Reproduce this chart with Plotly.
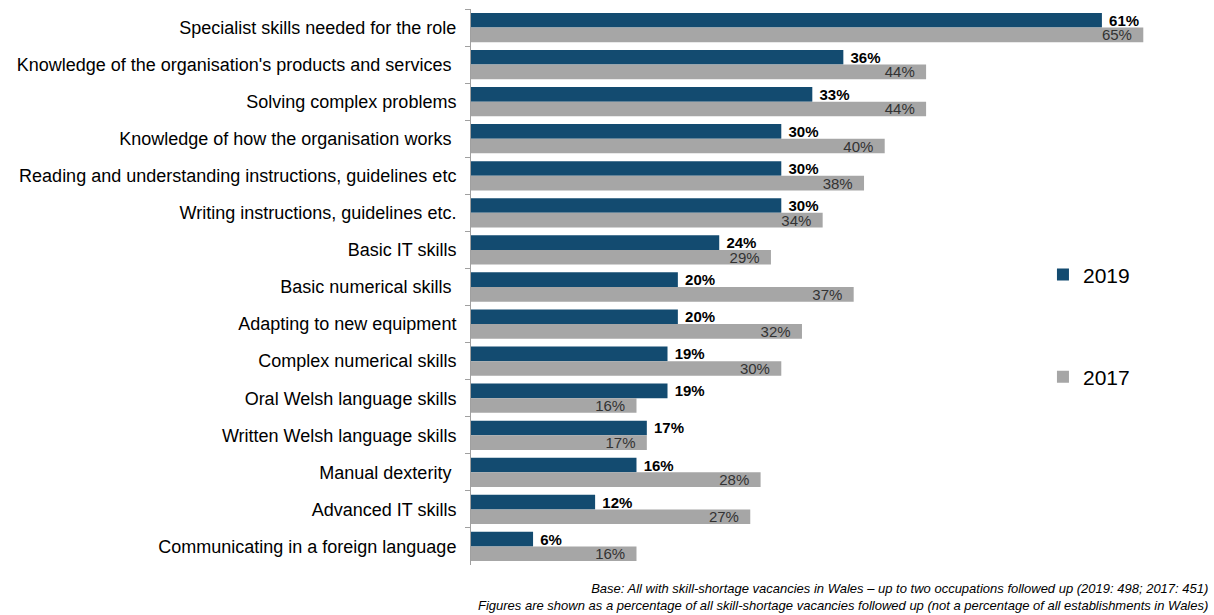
import plotly.graph_objects as go

# Skills found difficult to obtain among skill-shortage vacancies (% of SSVs)
skills = [
    "Specialist skills needed for the role",
    "Knowledge of the organisation's products and services\u00a0",
    "Solving complex problems",
    "Knowledge of how the organisation works\u00a0",
    "Reading and understanding instructions, guidelines etc",
    "Writing instructions, guidelines etc.",
    "Basic IT skills",
    "Basic numerical skills\u00a0",
    "Adapting to new equipment",
    "Complex numerical skills",
    "Oral Welsh language skills",
    "Written Welsh language skills",
    "Manual dexterity\u00a0",
    "Advanced IT skills",
    "Communicating in a foreign language",
]
values_2019 = [61, 36, 33, 30, 30, 30, 24, 20, 20, 19, 19, 17, 16, 12, 6]
values_2017 = [65, 44, 44, 40, 38, 34, 29, 37, 32, 30, 16, 17, 28, 27, 16]

BLUE = "#134B70"
GREY = "#A6A6A6"
FONT = "Liberation Sans, Arial, sans-serif"

fig = go.Figure()
fig.add_trace(go.Bar(
    y=skills, x=values_2019, name="2019", orientation="h",
    marker=dict(color=BLUE, line=dict(width=0)),
    text=[f"\u00a0{v}%" for v in values_2019],
    textposition="outside", constraintext="none", cliponaxis=False,
    textfont=dict(family=FONT, size=15, color="#000000", weight="bold"),
    legend="legend",
))
fig.add_trace(go.Bar(
    y=skills, x=values_2017, name="2017", orientation="h",
    marker=dict(color=GREY, line=dict(width=0)),
    text=[f"{v}%\u00a0\u00a0" for v in values_2017],
    textposition="inside", insidetextanchor="end", constraintext="none",
    textfont=dict(family=FONT, size=15, color="#333333"),
    legend="legend2",
))

legend_style = dict(
    xanchor="left", yanchor="middle", bgcolor="rgba(0,0,0,0)",
    font=dict(family=FONT, size=21, color="#000000"),
    itemwidth=30, tracegroupgap=0,
)

fig.update_layout(
    width=1214, height=615,
    margin=dict(l=471, r=19, t=9, b=50),
    paper_bgcolor="white", plot_bgcolor="white",
    barmode="group", bargap=0.21, bargroupgap=0,
    font=dict(family=FONT, color="#000000"),
    showlegend=True,
    legend=dict(x=0.79, y=0.522, **legend_style),
    legend2=dict(x=0.79, y=0.338, **legend_style),
    xaxis=dict(range=[0, 70], visible=False, fixedrange=True),
    yaxis=dict(
        autorange="reversed", type="category",
        showline=True, linecolor="#A0A0A0", linewidth=1,
        ticks="outside", ticklen=5, tickcolor="#A0A0A0", tickson="boundaries",
        ticklabelstandoff=10,
        tickfont=dict(family=FONT, size=18, color="#000000"),
        showgrid=False, zeroline=False,
    ),
    annotations=[
        dict(
            xref="paper", yref="paper", x=1.021, y=-0.026, xanchor="right", yanchor="top",
            align="right", showarrow=False,
            text=("<i>Base: All with skill-shortage vacancies in Wales \u2013 up to two occupations followed up (2019: 498; 2017: 451)</i><br>"
                  "<i>Figures are shown as a percentage of all skill-shortage vacancies followed up (not a percentage of all establishments in Wales)</i>"),
            font=dict(family=FONT, size=13, color="#000000"),
        )
    ],
)

fig.write_html("out.html")
